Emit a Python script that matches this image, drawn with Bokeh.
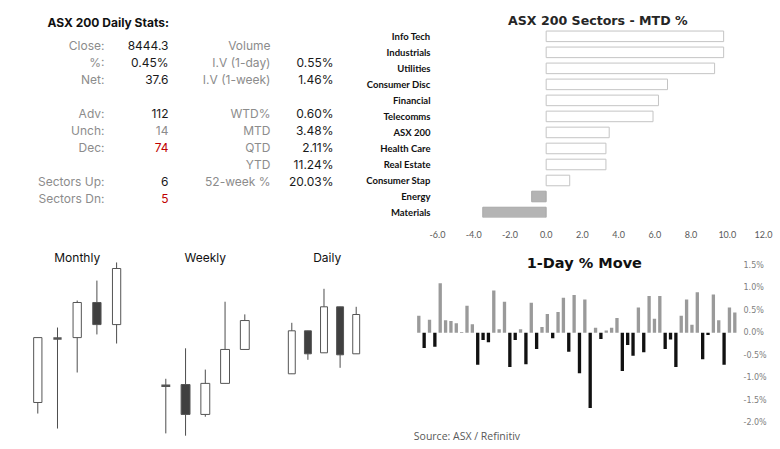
from bokeh.plotting import figure
from bokeh.layouts import row, column
from bokeh.models import Range1d, FixedTicker, PrintfTickFormatter, ColumnDataSource
from bokeh.core.properties import value
from bokeh.embed import file_html
from bokeh.resources import INLINE

# ---------------- data ----------------
stats_title = "ASX 200 Daily Stats:"
left_labels = ["Close:", "%:", "Net:", "", "Adv:", "Unch:", "Dec:", "", "Sectors Up:", "Sectors Dn:"]
left_values = ["8444.3", "0.45%", "37.6", "", "112", "14", "74", "", "6", "5"]
left_value_colors = ["#1a1a1a", "#1a1a1a", "#1a1a1a", "#1a1a1a", "#1a1a1a", "#8c8c8c", "#c00000", "#1a1a1a", "#1a1a1a", "#c00000"]
right_labels = ["Volume", "I.V (1-day)", "I.V (1-week)", "", "WTD%", "MTD", "QTD", "YTD", "52-week %", ""]
right_values = ["", "0.55%", "1.46%", "", "0.60%", "3.48%", "2.11%", "11.24%", "20.03%", ""]

sector_title = "ASX 200 Sectors - MTD %"
sectors = ["Info Tech", "Industrials", "Utilities", "Consumer Disc", "Financial", "Telecomms",
           "ASX 200", "Health Care", "Real Estate", "Consumer Stap", "Energy", "Materials"]
sector_mtd = [9.8, 9.8, 9.3, 6.7, 6.2, 5.9, 3.48, 3.3, 3.3, 1.3, -0.8, -3.5]
sector_ticks = [-6, -4, -2, 0, 2, 4, 6, 8, 10, 12]

monthly_open = [7765, 8090, 8094, 8272, 8160]
monthly_high = [8094, 8145, 8282, 8383, 8475]
monthly_low = [7709, 7633, 7917, 8110, 8064]
monthly_close = [8094, 8090, 8272, 8160, 8444.3]

weekly_open = [8331, 8333, 8281, 8335, 8394]
weekly_high = [8343, 8396, 8359, 8477, 8455]
weekly_low = [8248, 8244, 8277, 8335, 8394]
weekly_close = [8331, 8281, 8335, 8394, 8444.3]

daily_open = [8385, 8428, 8406, 8452, 8405]
daily_high = [8436, 8428, 8470, 8452, 8452]
daily_low = [8385, 8399, 8406, 8391, 8405]
daily_close = [8428, 8405, 8452, 8404, 8444.3]

move_title = "1-Day % Move"
daily_moves = [0.38, -0.34, 0.29, -0.31, 1.10, 0.28, 0.26, 0.21, 0.02, 0.60,
               0.19, -0.71, -0.16, -0.21, 0.94, 0.08, 0.69, -0.76, -0.16, 0.08,
               -0.70, 0.67, -0.36, 0.13, 0.42, -0.12, 0.46, 0.78, -0.42, 0.84,
               -0.90, 0.74, -1.67, 0.11, -0.14, 0.05, 0.11, 0.33, -0.85, -0.27,
               -0.51, 0.56, -0.43, 0.82, 0.31, 0.82, -0.36, -0.15, -0.76, 0.38,
               0.74, 0.18, 0.90, -0.59, -0.05, 0.85, 0.28, -0.71, 0.56, 0.45]
move_ticks = [-2.0, -1.5, -1.0, -0.5, 0.0, 0.5, 1.0, 1.5]
source_text = "Source: ASX / Refinitiv"


def base_fig(**kw):
    f = figure(output_backend="svg", toolbar_location=None, outline_line_color=None,
               background_fill_color="white", border_fill_color="white", **kw)
    f.grid.grid_line_color = None
    return f


# ---------------- stats panel ----------------
# frame of this panel is aligned with the bar chart's frame (height 218)
ps = base_fig(width=340, height=240, x_range=Range1d(0, 340), y_range=Range1d(10.117, -2.632),
              min_border=0, min_border_bottom=22, x_axis_location=None, y_axis_location=None)
rows_idx = list(range(len(left_labels)))
ps.text(x=[47], y=[-1.345], text=[stats_title], text_align="left", text_baseline="middle",
        text_font=value("Inter"), text_font_style="bold", text_font_size="12px", text_color="#111111")
ps.text(x=104, y=rows_idx, text=left_labels, text_align="right", text_baseline="middle",
        text_font=value("Inter"), text_font_size="12px", text_color="#8c8c8c")
src_lv = ColumnDataSource(dict(y=rows_idx, t=left_values, c=left_value_colors))
ps.text(x=168, y="y", text="t", text_color="c", source=src_lv, text_align="right", text_baseline="middle",
        text_font=value("Inter"), text_font_size="12px")
ps.text(x=270, y=rows_idx, text=right_labels, text_align="right", text_baseline="middle",
        text_font=value("Inter"), text_font_size="12px", text_color="#8c8c8c")
ps.text(x=333, y=rows_idx, text=right_values, text_align="right", text_baseline="middle",
        text_font=value("Inter"), text_font_size="12px", text_color="#1a1a1a")

# ---------------- sectors bar chart ----------------
pb = base_fig(width=440, height=240, x_range=Range1d(-6, 12), y_range=Range1d(11.311, -2.237),
              min_border_left=97, min_border_right=17, min_border_top=0, min_border_bottom=22)
sec_idx = list(range(len(sectors)))
sec_fill = ["white" if v >= 0 else "#b4b4b4" for v in sector_mtd]
sec_line = ["#c4c4c4" if v >= 0 else "#a8a8a8" for v in sector_mtd]
pb.hbar(y=sec_idx, left=0, right=sector_mtd, height=0.66, fill_color=sec_fill, line_color=sec_line, line_width=1)
pb.text(x=[2.85], y=[-0.994], text=[sector_title], text_align="center", text_baseline="middle",
        text_font=value("DejaVu Sans"), text_font_style="bold", text_font_size="12.6px", text_color="#262626")
xa = pb.xaxis[0]
xa.ticker = FixedTicker(ticks=sector_ticks)
xa.formatter = PrintfTickFormatter(format="%.1f")
xa.axis_line_color = None
xa.major_tick_line_color = None
xa.minor_tick_line_color = None
xa.major_label_standoff = 7
xa.major_label_text_font = "Lato"
xa.major_label_text_font_size = "9px"
xa.major_label_text_color = "#595959"
ya = pb.yaxis[0]
ya.ticker = FixedTicker(ticks=sec_idx)
ya.major_label_overrides = {i: s for i, s in zip(sec_idx, sectors)}
ya.axis_line_color = None
ya.major_tick_line_color = None
ya.minor_tick_line_color = None
ya.major_tick_out = 0
ya.major_tick_in = 0
ya.major_label_standoff = 7
ya.major_label_text_font = "Lato"
ya.major_label_text_font_style = "bold"
ya.major_label_text_font_size = "9.5px"
ya.major_label_text_color = "#111111"

# ---------------- candles ----------------
pc = base_fig(width=395, height=209, x_range=Range1d(-1.893, 18.157), y_range=Range1d(7526.7, 8586.3),
              min_border=0, x_axis_location=None, y_axis_location=None)
pc.extra_x_ranges = {"w": Range1d(-8.370, 11.630), "d": Range1d(-18.093, 6.441)}
pc.extra_y_ranges = {"w": Range1d(8220.0, 8583.5), "d": Range1d(8309.3, 8518.3)}

groups = [
    ("Monthly", "default", pc.y_range, monthly_open, monthly_high, monthly_low, monthly_close, 0.42, 2.0),
    ("Weekly", "w", pc.extra_y_ranges["w"], weekly_open, weekly_high, weekly_low, weekly_close, 0.45, 2.0),
    ("Daily", "d", pc.extra_y_ranges["d"], daily_open, daily_high, daily_low, daily_close, 0.43, 2.2),
]
for name, rn, yr, o, h, l, c, w, tx in groups:
    xs = list(range(len(o)))
    top = [max(a, b) for a, b in zip(o, c)]
    bot = [min(a, b) for a, b in zip(o, c)]
    fill = ["white" if cc >= oo else "#404040" for oo, cc in zip(o, c)]
    lw = [2.5 if cc == oo else 1.0 for oo, cc in zip(o, c)]
    src = ColumnDataSource(dict(x=xs, h=h, l=l, top=top, bot=bot, fill=fill, lw=lw))
    pc.segment(x0="x", y0="l", x1="x", y1="h", source=src, line_color="#4d4d4d", line_width=1,
               x_range_name=rn, y_range_name=rn)
    pc.vbar(x="x", top="top", bottom="bot", width=w, source=src, fill_color="fill",
            line_color="#555555", line_width="lw", x_range_name=rn, y_range_name=rn)
    ty = yr.end - (17.0 / 209.0) * (yr.end - yr.start)
    pc.text(x=[tx], y=[ty], text=[name], text_align="center", text_baseline="middle",
            text_font=value("Inter"), text_font_size="12px", text_color="#111111",
            x_range_name=rn, y_range_name=rn)

# ---------------- 1-day move ----------------
pm = base_fig(width=385, height=209, x_range=Range1d(-4.35, 60.064), y_range=Range1d(-2.593, 2.051),
              min_border_left=0, min_border_top=0, min_border_bottom=0, min_border_right=40,
              x_axis_location=None, y_axis_location="right")
mv_idx = list(range(len(daily_moves)))
mv_col = ["#9a9a9a" if v >= 0 else "#111111" for v in daily_moves]
pm.vbar(x=mv_idx, top=daily_moves, bottom=0, width=0.62, fill_color=mv_col, line_color=None)
pm.text(x=[30.9], y=[1.54], text=[move_title], text_align="center", text_baseline="middle",
        text_font=value("DejaVu Sans"), text_font_style="bold", text_font_size="14.5px", text_color="#111111")
pm.text(x=[-0.93], y=[-2.298], text=[source_text], text_align="left", text_baseline="middle",
        text_font=value("Open Sans"), text_font_size="10.5px", text_color="#595959")
ma = pm.yaxis[0]
ma.ticker = FixedTicker(ticks=move_ticks)
ma.formatter = PrintfTickFormatter(format="%.1f%%")
ma.axis_line_color = None
ma.major_tick_line_color = None
ma.minor_tick_line_color = None
ma.major_tick_out = 0
ma.major_tick_in = 0
ma.major_label_standoff = 3
ma.major_label_text_font = "DejaVu Sans"
ma.major_label_text_font_size = "8px"
ma.major_label_text_color = "#808080"

layout = column(row(ps, pb), row(pc, pm))
open("out.html", "w").write(file_html(layout, INLINE))
